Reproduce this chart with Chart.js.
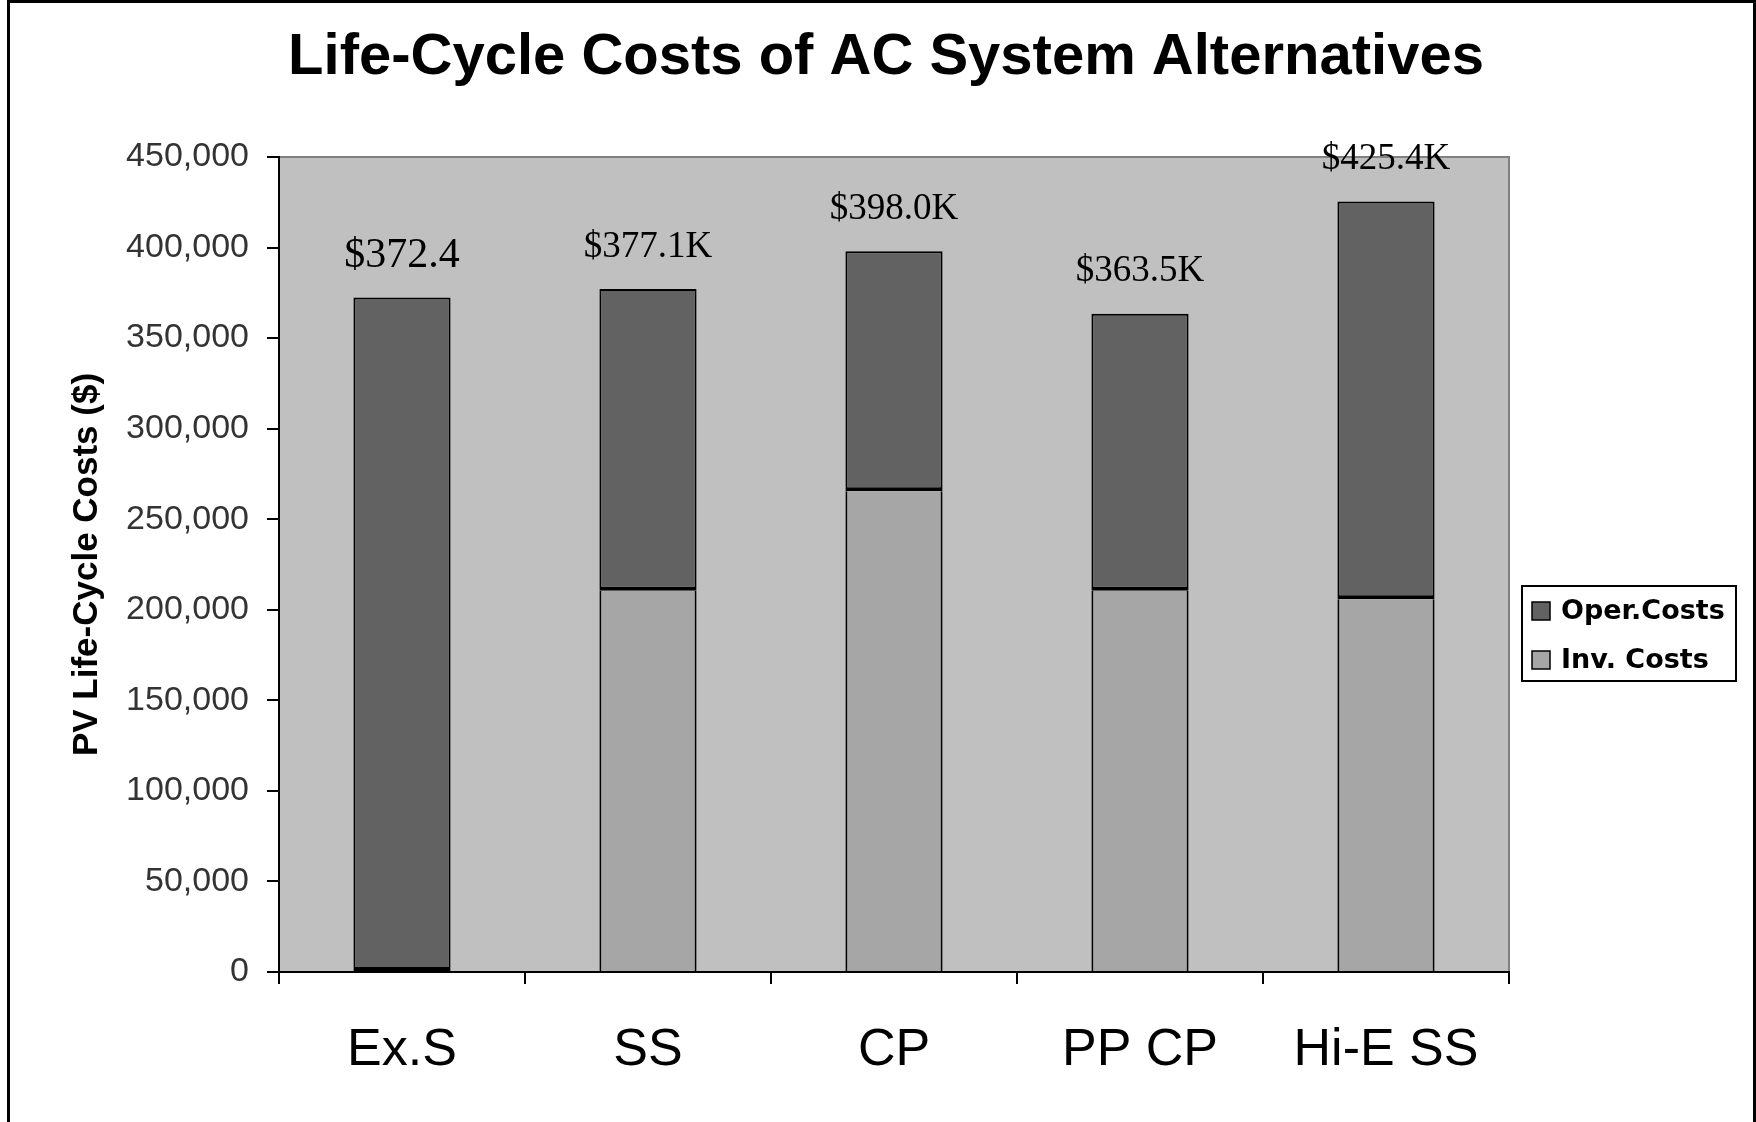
<!DOCTYPE html>
<html>
<head>
<meta charset="utf-8">
<title>Life-Cycle Costs of AC System Alternatives</title>
<script src="https://cdn.jsdelivr.net/npm/chart.js@4.4.1/dist/chart.umd.min.js"></script>
<style>
  body { margin: 0; background: #fff; }
  canvas { display: block; }
</style>
</head>
<body>
<canvas id="lccChart" width="1756" height="1122"></canvas>
<script>
// AC system alternatives and their present-value costs ($)
const systems = ['Ex.S', 'SS', 'CP', 'PP CP', 'Hi-E SS'];
const totalCosts = [372400, 377100, 398000, 363500, 425400];
const invCosts = [0, 210500, 265400, 210500, 205800];
const totalLabels = ['$372.4', '$377.1K', '$398.0K', '$363.5K', '$425.4K'];
const yMax = 450000;
const yStep = 50000;

// operating share is whatever the investment doesn't cover
const operCosts = totalCosts.map((t, i) => t - invCosts[i]);

const chartTitle = 'Life-Cycle Costs of AC System Alternatives';
const INV_COLOR = '#a6a6a6';
const OPER_COLOR = '#626262';
const SANS = '"Liberation Sans", Arial, sans-serif';

// white page, grey plot area with its frame, page title and outer border
const framePlugin = {
  id: 'frame',
  beforeDraw(chart) {
    const { ctx, chartArea: a, width, height } = chart;
    ctx.save();
    ctx.fillStyle = '#fff';
    ctx.fillRect(0, 0, width, height);
    ctx.fillStyle = '#c0c0c0';
    ctx.fillRect(a.left, a.top, a.right - a.left, a.bottom - a.top);
    ctx.strokeStyle = '#808080';
    ctx.lineWidth = 2;
    ctx.strokeRect(a.left, a.top, a.right - a.left, a.bottom - a.top);

    // title is centred on the whole page, not just the plot
    ctx.fillStyle = '#000';
    ctx.font = 'bold 58px ' + SANS;
    ctx.textAlign = 'center';
    ctx.textBaseline = 'middle';
    ctx.fillText(chartTitle, width / 2 + 8, 58);
    ctx.restore();
  },
  afterDraw(chart) {
    const { ctx, width, height } = chart;
    ctx.save();
    ctx.strokeStyle = '#000';
    ctx.lineWidth = 3;
    ctx.strokeRect(8.5, 1.5, width - 10, height + 20);
    ctx.restore();
  }
};

// total cost printed above each stack
const totalsPlugin = {
  id: 'totals',
  afterDatasetsDraw(chart) {
    const { ctx } = chart;
    const meta = chart.getDatasetMeta(1);
    ctx.save();
    ctx.fillStyle = '#000';
    ctx.textAlign = 'center';
    ctx.textBaseline = 'middle';
    meta.data.forEach((bar, i) => {
      ctx.font = (i === 0 ? '42px' : '37px') + ' "Liberation Serif", "Times New Roman", serif';
      ctx.fillText(totalLabels[i], bar.x, bar.y - 42);
    });
    ctx.restore();
  }
};

// boxed legend to the right of the plot, operating costs listed first
const legendBoxPlugin = {
  id: 'legendBox',
  afterDraw(chart) {
    const { ctx, chartArea: a } = chart;
    const x = a.right + 13;
    const y = 586;
    const w = 214;
    const h = 95;
    ctx.save();
    ctx.fillStyle = '#fff';
    ctx.fillRect(x, y, w, h);
    ctx.strokeStyle = '#000';
    ctx.lineWidth = 2;
    ctx.strokeRect(x, y, w, h);
    const items = chart.data.datasets.slice().reverse();
    ctx.font = 'bold 27px "DejaVu Sans", Verdana, sans-serif';
    ctx.textBaseline = 'middle';
    items.forEach((ds, i) => {
      const cy = y + 25 + i * 49;
      ctx.fillStyle = ds.backgroundColor;
      ctx.fillRect(x + 10, cy - 9, 18, 18);
      ctx.lineWidth = 1.5;
      ctx.strokeRect(x + 10, cy - 9, 18, 18);
      ctx.fillStyle = '#000';
      ctx.fillText(ds.label, x + 39, cy + 1);
    });
    ctx.restore();
  }
};

const ctx = document.getElementById('lccChart').getContext('2d');
new Chart(ctx, {
  type: 'bar',
  data: {
    labels: systems,
    datasets: [
      {
        label: 'Inv. Costs',
        data: invCosts,
        backgroundColor: INV_COLOR,
        borderColor: '#000',
        borderWidth: { top: 0, left: 2, right: 2, bottom: 0 },
        borderSkipped: false
      },
      {
        // the heavy lower edge doubles as the divider between the two costs
        label: 'Oper.Costs',
        data: operCosts,
        backgroundColor: OPER_COLOR,
        borderColor: '#000',
        borderWidth: { top: 2, left: 2, right: 2, bottom: 4 },
        borderSkipped: false
      }
    ]
  },
  options: {
    responsive: false,
    animation: false,
    devicePixelRatio: 1,
    datasets: {
      bar: { categoryPercentage: 1, barPercentage: 0.395, inflateAmount: 0 }
    },
    layout: {
      padding: { left: 50, right: 247, top: 157, bottom: 0 }
    },
    plugins: {
      legend: { display: false },
      tooltip: { enabled: false },
      title: { display: false }
    },
    scales: {
      x: {
        stacked: true,
        afterFit(scale) { scale.height = 150; },
        border: { color: '#000', width: 2 },
        grid: {
          drawOnChartArea: false,
          color: '#000',
          lineWidth: 2,
          tickLength: 12
        },
        ticks: {
          color: '#000',
          padding: 35,
          font: { family: SANS, size: 52 }
        }
      },
      y: {
        stacked: true,
        min: 0,
        max: yMax,
        afterFit(scale) { scale.width = 229; },
        border: { color: '#000', width: 2 },
        grid: {
          drawOnChartArea: false,
          color: '#000',
          lineWidth: 2,
          tickLength: 12
        },
        ticks: {
          stepSize: yStep,
          color: '#333',
          padding: 18,
          font: { family: SANS, size: 34 },
          callback: v => v.toLocaleString('en-US')
        },
        title: {
          display: true,
          text: 'PV Life-Cycle Costs ($)',
          color: '#000',
          padding: { top: 16, bottom: 0 },
          font: { family: SANS, size: 35, weight: 'bold' }
        }
      }
    }
  },
  plugins: [framePlugin, totalsPlugin, legendBoxPlugin]
});
</script>
</body>
</html>
